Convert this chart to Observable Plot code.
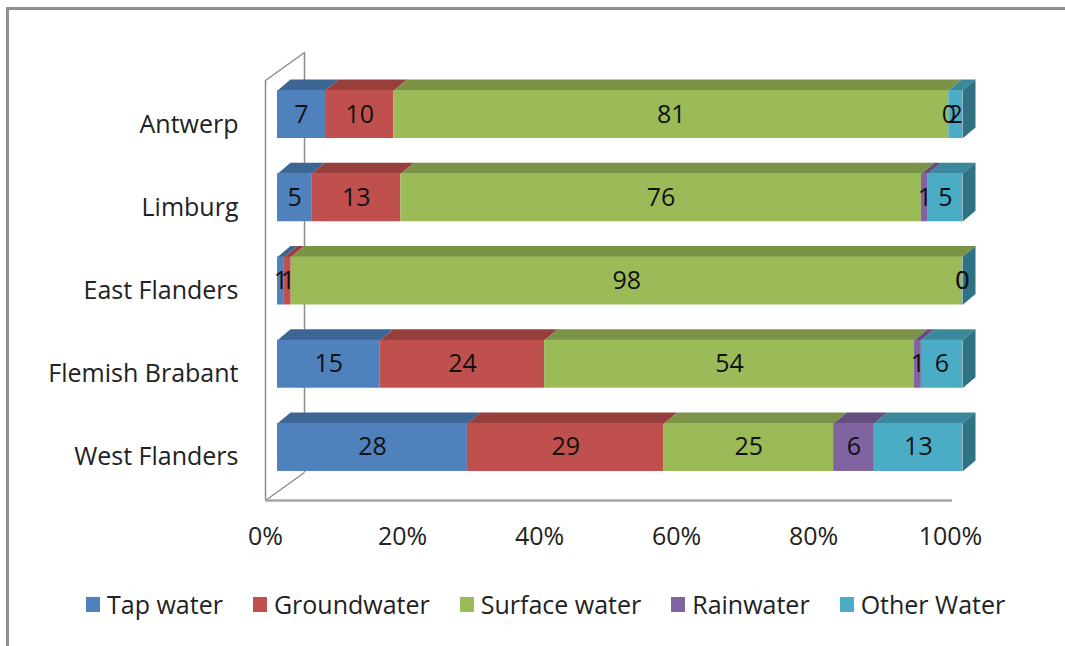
<!DOCTYPE html>
<html>
<head>
<meta charset="utf-8">
<script src="https://cdn.jsdelivr.net/npm/d3@7"></script>
<script src="https://cdn.jsdelivr.net/npm/@observablehq/plot@0.6"></script>
<style>
  html, body { margin: 0; padding: 0; background: #fff; overflow: hidden; }
  body { width: 1065px; height: 646px; position: relative; font-family: "Open Sans", sans-serif; }
  #frame { position: absolute; left: 6px; top: 7px; width: 1059px; height: 639px; border-left: 3px solid #8f8f8f; border-top: 3px solid #8f8f8f; box-sizing: border-box; }
  #chart { position: absolute; left: 0; top: 0; }
  #legend { position: absolute; left: 86px; top: 586px; display: flex; gap: 30px; font-size: 25px; color: #222; line-height: 36px; }
  .item { display: flex; align-items: center; }
  .sw { width: 14px; height: 15px; margin-right: 7px; }
</style>
</head>
<body>
<div id="frame"></div>
<div id="chart"></div>
<div id="legend"></div>
<script>
const regions = ["Antwerp", "Limburg", "East Flanders", "Flemish Brabant", "West Flanders"];
const sources = ["Tap water", "Groundwater", "Surface water", "Rainwater", "Other Water"];
const tapWater     = [7, 5, 1, 15, 28];
const groundwater  = [10, 13, 1, 24, 29];
const surfaceWater = [81, 76, 98, 54, 25];
const rainwater    = [0, 1, 0, 1, 6];
const otherWater   = [2, 5, 0, 6, 13];
const xTicks = [0, 20, 40, 60, 80, 100];

const frontColors = ["#4F81BD", "#C0504D", "#9BBB59", "#8064A2", "#4BACC6"];
const topColors   = ["#3E6695", "#963F3C", "#7A9346", "#654F81", "#3B889C"];
const sideColor   = "#2E7283";

const series = [tapWater, groundwater, surfaceWater, rainwater, otherWater];

// geometry (pixels)
const W = 1065, Hh = 580;
const mL = 265, mR = 115, mT = 80, mB = 80;
const yDomain = [-0.529, 4.517];
const kx = (W - mL - mR) / 100;                       // px per %
const ky = (Hh - mT - mB) / (yDomain[1] - yDomain[0]); // px per category step
const barHalf = 24 / ky;          // half bar height
const depthX = 13 / kx, depthY = 11 / ky;   // bar depth
const wallX = 39 / kx, wallY = 28 / ky;     // wall depth
const barDx = 12, barDy = -10;

// stacked, normalized rows
const rows = [];
regions.forEach((r, i) => {
  const total = d3.sum(series, s => s[i]);
  let cum = 0;
  series.forEach((s, k) => {
    const v = s[i];
    const x1 = cum / total * 100;
    cum += v;
    const x2 = cum / total * 100;
    rows.push({i, k, region: r, source: sources[k], value: v, x1, x2, mid: (x1 + x2) / 2});
  });
});

const topPts = [];
rows.forEach(d => {
  const yt = d.i - barHalf;
  const id = d.i + "-" + d.k;
  const c = topColors[d.k];
  topPts.push({id, c, x: d.x1, y: yt});
  topPts.push({id, c, x: d.x2, y: yt});
  topPts.push({id, c, x: d.x2 + depthX, y: yt - depthY});
  topPts.push({id, c, x: d.x1 + depthX, y: yt - depthY});
});
const sidePts = [];
regions.forEach((r, i) => {
  const id = "s" + i;
  sidePts.push({id, x: 100, y: i - barHalf});
  sidePts.push({id, x: 100, y: i + barHalf});
  sidePts.push({id, x: 100 + depthX, y: i + barHalf - depthY});
  sidePts.push({id, x: 100 + depthX, y: i - barHalf - depthY});
});

const wallColor = "#8c8c8c";
const chart = Plot.plot({
  width: W,
  height: Hh,
  marginLeft: mL, marginRight: mR, marginTop: mT, marginBottom: mB,
  style: {fontFamily: "Open Sans, sans-serif", fontSize: "25px", color: "#222", background: "transparent"},
  x: {domain: [0, 100], range: [mL, W - mR], ticks: xTicks, tickFormat: d => d + "%", tickSize: 0, tickPadding: 27, label: null},
  y: {domain: yDomain, range: [mT, Hh - mB], ticks: regions.map((r, i) => i), tickFormat: i => regions[i], tickSize: 0, tickPadding: 27, label: null},
  color: {type: "identity"},
  marks: [
    // back wall edge and floor
    Plot.ruleX([0], {y1: yDomain[0], y2: yDomain[1], dx: 39, dy: -28, stroke: wallColor, strokeWidth: 1.5}),
    Plot.link([0], {x1: 0, y1: yDomain[0], x2: wallX, y2: yDomain[0] - wallY, stroke: wallColor, strokeWidth: 1.5}),
    Plot.link([0], {x1: 0, y1: yDomain[1], x2: wallX, y2: yDomain[1] - wallY, stroke: wallColor, strokeWidth: 1.5}),
    Plot.ruleX([0], {y1: yDomain[0], y2: yDomain[1], stroke: wallColor, strokeWidth: 1.5}),
    Plot.ruleY([yDomain[1]], {x1: 0, x2: 100.3, stroke: "#a6a6a6", strokeWidth: 2.5}),
    // bars
    Plot.line(topPts, {x: "x", y: "y", z: "id", fill: "c", stroke: null, dx: barDx, dy: barDy, curve: "linear"}),
    Plot.line(sidePts, {x: "x", y: "y", z: "id", fill: sideColor, stroke: null, dx: barDx, dy: barDy}),
    Plot.rect(rows, {x1: "x1", x2: "x2", y1: d => d.i - barHalf, y2: d => d.i + barHalf, fill: d => frontColors[d.k], dx: barDx, dy: barDy}),
    Plot.text(rows, {x: "mid", y: "i", text: d => String(d.value), dx: barDx, dy: barDy, fontSize: 25, fill: "#111"})
  ]
});
document.getElementById("chart").appendChild(chart);

const legend = document.getElementById("legend");
sources.forEach((s, k) => {
  const it = document.createElement("div");
  it.className = "item";
  const sw = document.createElement("span");
  sw.className = "sw";
  sw.style.background = frontColors[k];
  const t = document.createElement("span");
  t.textContent = s;
  it.appendChild(sw); it.appendChild(t);
  legend.appendChild(it);
});
</script>
</body>
</html>
